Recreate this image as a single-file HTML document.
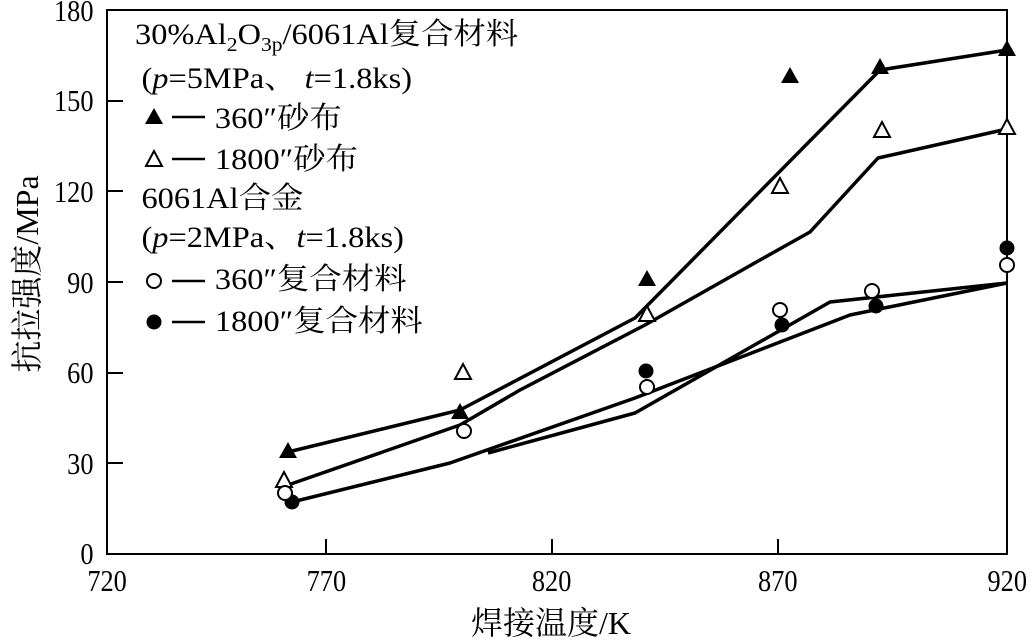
<!DOCTYPE html>
<html><head><meta charset="utf-8"><style>
body{margin:0;background:#fff}
svg{display:block}
text{font-family:"Liberation Serif","Noto Serif CJK SC",serif;fill:#000}
</style></head><body>
<svg width="1034" height="640" viewBox="0 0 1034 640">
<g stroke="#000" stroke-width="2" fill="none">
<path d="M107,10H1007V554H107Z"/>
<path d="M107,463h16M107,373h16M107,282h16M107,191h16M107,101h16"/>
<path d="M326,554v-15M552,554v-15M778,554v-15"/>
<path d="M172,117h33M172,159h33M172,281h33M172,322h33" stroke-width="2.5"/>
</g>
<g stroke="#000" stroke-width="3.5" fill="none" stroke-linejoin="round">
<polyline points="288,452 460,410 635,318 880,70 1007,50"/>
<polyline points="288,485 460,425 520,390 645,325 760,260 810,232 878,158 1007,129"/>
<polyline points="488,453 635,413 830,302 1007,283"/>
<polyline points="288,503 450,463 635,398 850,315 1007,283"/>
</g>
<g fill="#000">
<path d="M288,442l-9,16h18z M460,403l-9,16h18z M647,270l-9,16h18z M790,67l-9,16h18z M880,58l-9,16h18z M1007,40l-9,16h18z M154,108l-9,16h18z"/>
<circle cx="292" cy="502" r="7.5"/><circle cx="646" cy="371" r="7.5"/><circle cx="782" cy="325" r="7.5"/><circle cx="876" cy="306" r="7.5"/><circle cx="1007" cy="248" r="7.5"/><circle cx="154" cy="322" r="7.5"/>
</g>
<g fill="#fff" stroke="#000" stroke-width="2">
<path d="M284,472l-8,15h16z M463,364l-8,15h16z M647,306l-8,15h16z M780,178l-8,15h16z M882,122l-8,15h16z M1007,119l-8,15h16z M154,151l-8,15h16z"/>
<circle cx="285" cy="493" r="7"/><circle cx="464" cy="431" r="7"/><circle cx="647" cy="387" r="7"/><circle cx="780" cy="310" r="7"/><circle cx="872" cy="291" r="7"/><circle cx="1007" cy="265" r="7"/><circle cx="154" cy="281" r="7"/>
</g>
<g font-size="31" text-anchor="end" transform="scale(0.85,1)">
<text x="110" y="21">180</text><text x="110" y="111">150</text><text x="110" y="202">120</text><text x="110" y="293">90</text><text x="110" y="383">60</text><text x="110" y="474">30</text><text x="110" y="564">0</text>
</g>
<g font-size="31" text-anchor="middle" transform="scale(0.85,1)">
<text x="126" y="591">720</text><text x="384" y="591">770</text><text x="649" y="591">820</text><text x="915" y="591">870</text><text x="1185" y="591">920</text>
</g>
<text font-size="32" text-anchor="middle" x="551" y="634">焊接温度/K</text>
<text font-size="32" text-anchor="middle" transform="translate(38,274) rotate(-90)">抗拉强度/MPa</text>
<g font-size="30" transform="scale(1.08,1)">
<text x="125" y="44">30%Al<tspan font-size="20" dy="7">2</tspan><tspan dy="-7">O</tspan><tspan font-size="20" dy="7">3p</tspan><tspan dy="-7">/6061Al复合材料</tspan></text>
<text x="131" y="88">(<tspan font-style="italic">p</tspan>=5MPa、 <tspan font-style="italic">t</tspan>=1.8ks)</text>
<text x="199" y="128">360″砂布</text>
<text x="199" y="169">1800″砂布</text>
<text x="131" y="208">6061Al合金</text>
<text x="131" y="247">(<tspan font-style="italic">p</tspan>=2MPa、<tspan font-style="italic">t</tspan>=1.8ks)</text>
<text x="199" y="289">360″复合材料</text>
<text x="199" y="331">1800″复合材料</text>
</g>
</svg>
</body></html>
